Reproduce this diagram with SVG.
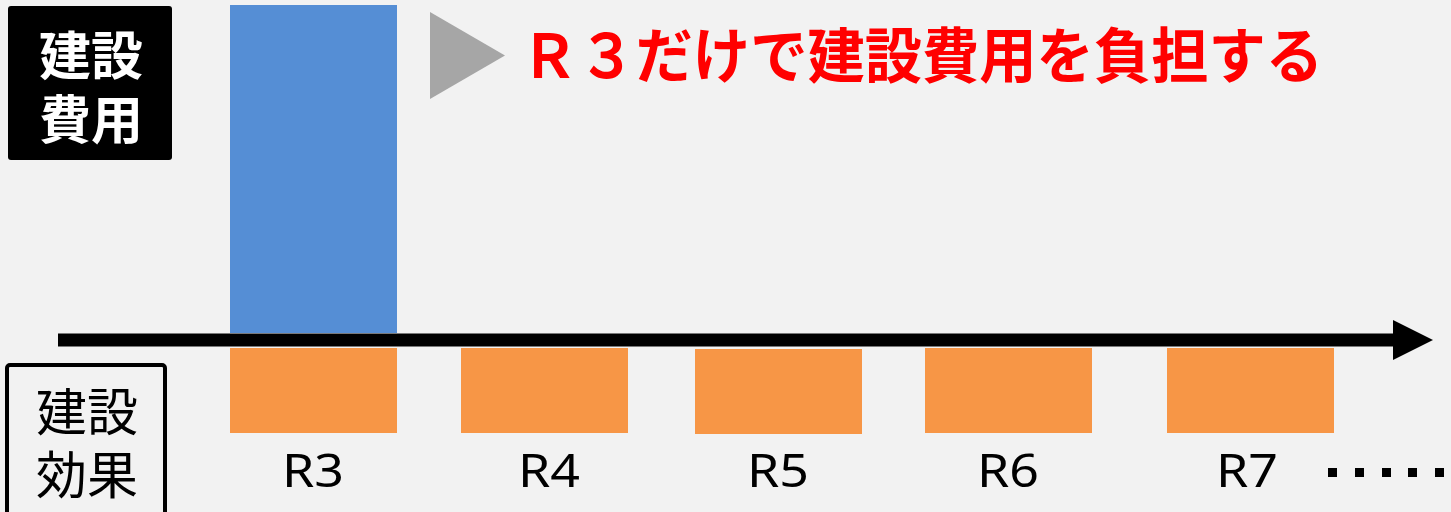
<svg xmlns="http://www.w3.org/2000/svg" width="1451" height="512" viewBox="0 0 1451 512">
<defs>
<style>
.jp{font-family:"Noto Sans CJK JP","Noto Sans",sans-serif;}
.lbl{font-family:"Noto Sans","Liberation Sans",Arial,sans-serif;font-size:46px;fill:#000;text-anchor:middle;}
.eff{fill:#F79646;}
</style>
<marker id="ah" markerWidth="40" markerHeight="40" refX="0" refY="20" orient="auto" markerUnits="userSpaceOnUse">
<path d="M0,0 L40,20 L0,40 Z" fill="#000"/>
</marker>
</defs>
<rect x="0" y="0" width="1451" height="512" fill="#F2F2F2"/>
<g id="cost-label">
<rect x="8" y="6" width="164" height="154" rx="3" fill="#000"/>
<text class="jp" font-size="52" font-weight="bold" fill="#fff" text-anchor="middle"><tspan x="91" y="75">建設</tspan><tspan x="91" y="139">費用</tspan></text>
</g>
<g id="effect-label">
<rect x="7" y="365" width="158" height="160" rx="3" fill="none" stroke="#000" stroke-width="4"/>
<text class="jp" font-size="51" fill="#000" text-anchor="middle"><tspan x="87" y="431">建設</tspan><tspan x="87" y="494">効果</tspan></text>
</g>
<g id="cost-bar">
<rect x="230" y="5" width="167" height="328" fill="#558ED5"/>
</g>
<g id="headline">
<path d="M430,12 L505,55.5 L430,99 Z" fill="#A6A6A6"/>
<text class="jp" x="521" y="78" font-size="60" font-weight="bold" fill="#FF0000" textLength="802" lengthAdjust="spacingAndGlyphs">Ｒ３だけで建設費用を負担する</text>
</g>
<g id="connectors">
<line x1="58" y1="340" x2="1393" y2="340" stroke="#000" stroke-width="13" marker-end="url(#ah)"/>
</g>
<g id="R3"><rect class="eff" x="230" y="348" width="167" height="85"/><text class="lbl" x="313" y="487" textLength="62" lengthAdjust="spacingAndGlyphs">R3</text></g>
<g id="R4"><rect class="eff" x="461" y="348" width="167" height="85"/><text class="lbl" x="549" y="487" textLength="62" lengthAdjust="spacingAndGlyphs">R4</text></g>
<g id="R5"><rect class="eff" x="695" y="349" width="167" height="85"/><text class="lbl" x="778" y="487" textLength="62" lengthAdjust="spacingAndGlyphs">R5</text></g>
<g id="R6"><rect class="eff" x="925" y="348" width="167" height="85"/><text class="lbl" x="1008" y="487" textLength="62" lengthAdjust="spacingAndGlyphs">R6</text></g>
<g id="R7"><rect class="eff" x="1167" y="348" width="167" height="85"/><text class="lbl" x="1247" y="487" textLength="62" lengthAdjust="spacingAndGlyphs">R7</text></g>
<g id="ellipsis" fill="#000">
<rect x="1328" y="468" width="9" height="9"/>
<rect x="1355" y="468" width="9" height="9"/>
<rect x="1382" y="468" width="9" height="9"/>
<rect x="1408" y="468" width="9" height="9"/>
<rect x="1435" y="468" width="9" height="9"/>
</g>
</svg>
